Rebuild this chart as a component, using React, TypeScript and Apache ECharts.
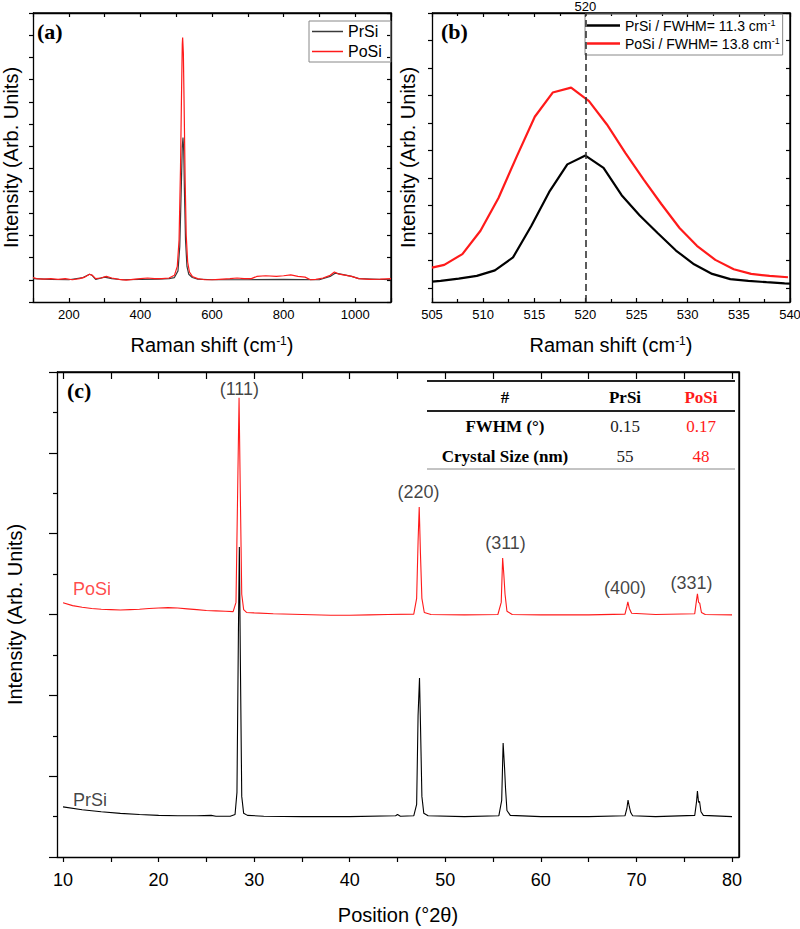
import React, { useEffect, useRef } from "react";
import * as echarts from "echarts";

// ---------- DATA ----------
const ramanFullPrSi: [number, number][] = [
  [100, 0.05], [150, 0.02], [200, 0.0], [240, 0.1], [258, 0.25], [265, 0.2], [275, 0.02],
  [300, 0.12], [320, 0.05], [350, 0.0], [400, 0.02], [450, 0.03], [480, 0.05], [495, 0.1],
  [505, 0.4], [510, 1.5], [514, 4.0], [517, 6.0], [519, 6.4], [521, 5.8], [523, 4.0],
  [526, 1.8], [530, 0.6], [535, 0.25], [545, 0.1], [560, 0.03], [600, 0.0], [700, 0.0],
  [800, 0.02], [900, 0.0], [930, 0.15], [945, 0.3], [970, 0.22], [990, 0.15], [1010, 0.05],
  [1100, 0.0],
];
const ramanFullPoSi: [number, number][] = [
  [100, 0.1], [110, 0.05], [130, 0.03], [150, 0.05], [170, 0.02], [190, 0.05], [210, 0.0],
  [230, 0.05], [245, 0.12], [258, 0.25], [266, 0.2], [275, 0.05], [290, 0.08], [305, 0.15],
  [320, 0.08], [340, 0.02], [360, -0.02], [380, 0.02], [400, 0.05], [420, 0.08], [440, 0.05],
  [460, 0.05], [480, 0.08], [495, 0.2], [503, 0.6], [508, 1.8], [512, 5.0], [515, 8.5],
  [517, 10.6], [518, 10.9], [520, 10.2], [522, 8.0], [525, 4.5], [528, 2.0], [532, 0.8],
  [537, 0.35], [545, 0.15], [560, 0.05], [580, 0.0], [600, 0.0], [620, 0.02], [650, 0.05],
  [670, 0.08], [690, 0.05], [710, 0.05], [725, 0.15], [750, 0.18], [780, 0.15], [800, 0.18],
  [820, 0.22], [840, 0.15], [860, 0.12], [875, 0.0], [890, 0.02], [910, 0.08], [930, 0.2],
  [942, 0.35], [955, 0.25], [975, 0.2], [990, 0.15], [1010, 0.05], [1040, 0.02], [1070, 0.03],
  [1100, 0.05],
];

const ramanZoomPrSi: [number, number][] = [
  [505, 0.24], [505.84, 0.27], [507.61, 0.35], [509.38, 0.45], [511.15, 0.65], [512.92, 1.12],
  [514.69, 2.25], [516.46, 3.5], [518.23, 4.5], [520, 4.82], [521.77, 4.37], [523.54, 3.38],
  [525.31, 2.64], [527.08, 2.0], [528.85, 1.37], [530.62, 0.87], [532.39, 0.52], [534.16, 0.33],
  [535.93, 0.27], [537.7, 0.22], [539.47, 0.18], [540, 0.17],
];
const ramanZoomPoSi: [number, number][] = [
  [505, 0.75], [506.2, 0.85], [507.97, 1.24], [509.74, 2.09], [511.5, 3.28], [513.3, 4.8],
  [515.05, 6.23], [516.8, 7.11], [518.6, 7.29], [520.35, 6.8], [522.1, 5.95], [523.9, 4.92],
  [525.7, 3.95], [527.4, 3.07], [529.2, 2.19], [530.9, 1.54], [532.7, 1.03], [534.5, 0.69],
  [536.2, 0.52], [538.0, 0.45], [539.8, 0.4],
];
const fwhmPrSi = "11.3";
const fwhmPoSi = "13.8";
const siPeakRef = 520;

const xrdPrSi: [number, number][] = [
  [10, 1.24], [12, 1.17], [14, 1.12], [16, 1.08], [18, 1.05], [20, 1.03], [22, 1.02], [24, 1.02],
  [25.5, 1.03], [26, 1.01], [27.5, 1.01], [28.0, 1.05], [28.2, 1.6], [28.35, 5.5], [28.45, 7.67],
  [28.55, 5.0], [28.7, 1.5], [28.9, 1.08], [29.3, 1.03], [31, 1.01], [35, 1.0], [40, 1.0],
  [44.8, 1.02], [45, 1.05], [45.3, 1.01], [46.7, 1.02], [47.0, 1.3], [47.15, 3.5], [47.3, 4.43],
  [47.4, 3.3], [47.55, 1.5], [47.75, 1.08], [48.2, 1.02], [52, 1.0], [55.6, 1.02], [55.9, 1.4],
  [56.05, 2.82], [56.2, 2.2], [56.3, 1.7], [56.45, 1.15], [56.8, 1.03], [60, 1.0], [65, 1.0],
  [68.8, 1.02], [69.0, 1.2], [69.12, 1.41], [69.25, 1.25], [69.4, 1.1], [69.6, 1.02], [72, 1.0],
  [76.1, 1.03], [76.28, 1.35], [76.38, 1.63], [76.5, 1.35], [76.6, 1.38], [76.75, 1.12],
  [77, 1.03], [80, 1.0],
];
const xrdPoSi: [number, number][] = [
  [10, 6.29], [11, 6.22], [12, 6.18], [13, 6.15], [14, 6.13], [15, 6.12], [16, 6.11], [17, 6.12],
  [18, 6.13], [19, 6.15], [20, 6.16], [21, 6.17], [22, 6.16], [23, 6.14], [24, 6.12], [25, 6.1],
  [26, 6.09], [27, 6.08], [27.8, 6.07], [28.1, 6.3], [28.3, 9.5], [28.42, 11.36], [28.55, 9.0],
  [28.7, 6.5], [28.9, 6.12], [29.2, 6.05], [30, 6.04], [32, 6.02], [35, 6.0], [38, 5.98],
  [40, 5.98], [42, 5.99], [44, 6.0], [46.7, 6.01], [47.0, 6.4], [47.15, 7.8], [47.27, 8.66],
  [47.4, 7.5], [47.55, 6.4], [47.8, 6.05], [48.5, 6.0], [52, 5.99], [55.5, 6.0], [55.85, 6.3],
  [56.0, 7.4], [56.12, 7.0], [56.25, 6.5], [56.45, 6.08], [57, 6.0], [60, 5.99], [65, 5.99],
  [68.8, 6.01], [69.0, 6.2], [69.1, 6.31], [69.25, 6.15], [69.5, 6.03], [72, 6.0], [76.1, 6.02],
  [76.28, 6.35], [76.38, 6.51], [76.5, 6.3], [76.62, 6.28], [76.8, 6.05], [77.2, 6.0], [80, 5.99],
];
const peakNames = ["(111)", "(220)", "(311)", "(400)", "(331)"];
const peakLabelX = [28.45, 47.2, 56.3, 68.8, 75.75];
const peakLabelY = [11.58, 9.03, 7.77, 6.66, 6.78];
const sampleNames = ["PrSi", "PoSi"];
const sampleLabelX = [12.82, 13.03];
const sampleLabelY = [1.41, 6.63];

const tableHeader = ["#", "PrSi", "PoSi"];
const tableRows = [
  ["FWHM (°)", "0.15", "0.17"],
  ["Crystal Size (nm)", "55", "48"],
];

const ramanFullXTicks = { min: 100, max: 1100, interval: 100 };
const ramanZoomXTicks = { min: 505, max: 540, interval: 5 };
const ramanZoomYTicks = [0, 1, 2, 3, 4, 5, 6, 7, 8, 9, 10];
const xrdXTicks = [10, 15, 20, 25, 30, 35, 40, 45, 50, 55, 60, 65, 70, 75, 80];
const xrdXLabels = [10, 20, 30, 40, 50, 60, 70, 80];

// ---------- STYLE ----------
const SANS = "Arial, 'Liberation Sans', Helvetica, sans-serif";
const SERIF = "'Times New Roman', 'Liberation Serif', Times, serif";
const RED = "#ff1a1a";
const BLACK = "#000";

const supRich = (size: number, supSize: number) => ({
  t: { fontSize: size, fontFamily: SANS, color: BLACK },
  s: { fontSize: supSize, fontFamily: SANS, color: BLACK, verticalAlign: "top", lineHeight: supSize },
});

const panelBoxes = [
  { left: 33, top: 13, width: 358, height: 289 },
  { left: 432, top: 13, width: 358, height: 289 },
  { left: 57, top: 372, width: 682, height: 485 },
];

export default function App() {
  const ref = useRef<HTMLDivElement>(null);

  useEffect(() => {
    document.body.style.margin = "0";
    if (!ref.current) return;
    const chart = echarts.init(ref.current, undefined, { renderer: "svg" });

    const mkLine = () => ({ show: true, onZero: false, lineStyle: { color: BLACK, width: 1.3 } });
    const tickStyle = { color: BLACK, width: 1.2 };

    const grids = panelBoxes.map((b) => ({ ...b, outerBoundsMode: "none", containLabel: false }));

    const xAxis: any[] = [
      {
        gridIndex: 0, type: "value", position: "bottom", ...ramanFullXTicks,
        axisLine: mkLine(), splitLine: { show: false },
        axisTick: { show: true, inside: true, length: 4, lineStyle: tickStyle },
        axisLabel: {
          show: true, fontSize: 13, fontFamily: SANS, color: BLACK, margin: 6,
          formatter: (v: number) => (v % 200 === 0 ? String(v) : ""),
        },
        name: "{t|Raman shift (cm}{s|-1}{t|)}", nameLocation: "middle", nameGap: 33,
        nameTextStyle: { rich: supRich(20, 12) },
      },
      {
        gridIndex: 1, type: "value", position: "bottom", ...ramanZoomXTicks,
        axisLine: mkLine(), splitLine: { show: false },
        axisTick: { show: true, inside: true, length: 4, lineStyle: tickStyle },
        minorTick: { show: true, splitNumber: 2, length: 3, lineStyle: tickStyle },
        axisLabel: { show: true, fontSize: 13, fontFamily: SANS, color: BLACK, margin: 6 },
        name: "{t|Raman shift (cm}{s|-1}{t|)}", nameLocation: "middle", nameGap: 33,
        nameTextStyle: { rich: supRich(20, 12) },
      },
      {
        gridIndex: 2, type: "value", position: "bottom", min: 9.37, max: 80.73,
        axisLine: mkLine(), splitLine: { show: false },
        axisTick: { show: true, inside: false, length: 5, lineStyle: tickStyle, customValues: xrdXTicks },
        axisLabel: { show: true, fontSize: 18, fontFamily: SANS, color: BLACK, margin: 14, customValues: xrdXLabels },
        name: "Position (°2θ)", nameLocation: "middle", nameGap: 48,
        nameTextStyle: { fontSize: 20, fontFamily: SANS, color: BLACK },
      },
      {
        gridIndex: 0, type: "value", position: "top", ...ramanFullXTicks,
        axisLine: mkLine(), splitLine: { show: false },
        axisTick: { show: true, inside: true, length: 4, lineStyle: tickStyle },
        axisLabel: { show: false },
      },
      {
        gridIndex: 1, type: "value", position: "top", ...ramanZoomXTicks,
        axisLine: mkLine(), splitLine: { show: false },
        axisTick: { show: true, inside: true, length: 4, lineStyle: tickStyle },
        minorTick: { show: true, splitNumber: 2, length: 3, lineStyle: tickStyle },
        axisLabel: { show: false },
      },
      {
        gridIndex: 2, type: "value", position: "top", min: 9.37, max: 80.73,
        axisLine: mkLine(), splitLine: { show: false },
        axisTick: { show: true, inside: true, length: 7, lineStyle: tickStyle, customValues: xrdXTicks },
        axisLabel: { show: false, customValues: xrdXLabels },
      },
    ];

    const yAxis: any[] = [
      {
        gridIndex: 0, type: "value", position: "left", min: -1, max: 12, interval: 1,
        axisLine: mkLine(), splitLine: { show: false },
        axisTick: { show: true, inside: false, length: 4, lineStyle: tickStyle },
        axisLabel: { show: false },
        name: "Intensity (Arb. Units)", nameLocation: "middle", nameGap: 12,
        nameTextStyle: { fontSize: 20, fontFamily: SANS, color: BLACK },
      },
      {
        gridIndex: 1, type: "value", position: "left", min: -0.5, max: 10,
        axisLine: mkLine(), splitLine: { show: false },
        axisTick: { show: true, inside: false, length: 4, lineStyle: tickStyle, customValues: ramanZoomYTicks },
        axisLabel: { show: false, customValues: ramanZoomYTicks },
        name: "Intensity (Arb. Units)", nameLocation: "middle", nameGap: 14,
        nameTextStyle: { fontSize: 20, fontFamily: SANS, color: BLACK },
      },
      {
        gridIndex: 2, type: "value", position: "left", min: 0, max: 12, interval: 2,
        axisLine: mkLine(), splitLine: { show: false },
        axisTick: { show: true, inside: false, length: 8, lineStyle: tickStyle },
        minorTick: { show: true, splitNumber: 2, length: 4, lineStyle: tickStyle },
        axisLabel: { show: false },
        name: "Intensity (Arb. Units)", nameLocation: "middle", nameGap: 32,
        nameTextStyle: { fontSize: 20, fontFamily: SANS, color: BLACK },
      },
      {
        gridIndex: 0, type: "value", position: "right", min: -1, max: 12, interval: 1,
        axisLine: mkLine(), splitLine: { show: false },
        axisTick: { show: true, inside: true, length: 4, lineStyle: tickStyle },
        axisLabel: { show: false },
      },
      {
        gridIndex: 1, type: "value", position: "right", min: -0.5, max: 10,
        axisLine: mkLine(), splitLine: { show: false },
        axisTick: { show: true, inside: true, length: 4, lineStyle: tickStyle, customValues: ramanZoomYTicks },
        axisLabel: { show: false, customValues: ramanZoomYTicks },
      },
      {
        gridIndex: 2, type: "value", position: "right", min: 0, max: 12, interval: 2,
        axisLine: mkLine(), splitLine: { show: false },
        axisTick: { show: false },
        axisLabel: { show: false },
      },
    ];

    const prsiZoomName = `PrSi / FWHM= ${fwhmPrSi} cm-1`;
    const posiZoomName = `PoSi / FWHM= ${fwhmPoSi} cm-1`;

    const frameSeries = (name: string, xi: number, yi: number, data: [number, number][]) => ({
      name, type: "line", xAxisIndex: xi, yAxisIndex: yi, data, showSymbol: false, silent: true,
      lineStyle: { color: "rgba(0,0,0,0)", width: 1 }, itemStyle: { color: "rgba(0,0,0,0)" },
    });

    const series: any[] = [
      {
        name: "PrSi", type: "line", xAxisIndex: 0, yAxisIndex: 0, data: ramanFullPrSi,
        showSymbol: false, lineStyle: { color: "#3a3a3a", width: 1.2 }, itemStyle: { color: "#3a3a3a" },
        z: 2,
      },
      {
        name: "PoSi", type: "line", xAxisIndex: 0, yAxisIndex: 0, data: ramanFullPoSi,
        showSymbol: false, lineStyle: { color: RED, width: 1.2 }, itemStyle: { color: RED },
        z: 3,
      },
      {
        name: prsiZoomName, type: "line", xAxisIndex: 1, yAxisIndex: 1, data: ramanZoomPrSi,
        showSymbol: false, lineStyle: { color: BLACK, width: 2.2 }, itemStyle: { color: BLACK },
        markLine: {
          silent: true, symbol: ["none", "none"],
          lineStyle: { color: "#333", width: 1.6, type: [7, 4] },
          label: {
            show: true, position: "end", formatter: String(siPeakRef), fontSize: 13,
            lineHeight: 12, fontFamily: SANS, color: BLACK, distance: 1,
          },
          data: [{ xAxis: siPeakRef }],
        },
      },
      {
        name: posiZoomName, type: "line", xAxisIndex: 1, yAxisIndex: 1, data: ramanZoomPoSi,
        showSymbol: false, lineStyle: { color: RED, width: 2.2 }, itemStyle: { color: RED },
      },
      {
        name: "PoSi (XRD)", type: "line", xAxisIndex: 2, yAxisIndex: 2, data: xrdPoSi,
        showSymbol: false, lineStyle: { color: RED, width: 1.1 }, itemStyle: { color: RED },
      },
      {
        name: "PrSi (XRD)", type: "line", xAxisIndex: 2, yAxisIndex: 2, data: xrdPrSi,
        showSymbol: false, lineStyle: { color: BLACK, width: 1.1 }, itemStyle: { color: BLACK },
      },
      {
        name: "peaks", type: "scatter", xAxisIndex: 2, yAxisIndex: 2, symbolSize: 0, silent: true,
        data: peakNames.map((n, i) => ({ value: [peakLabelX[i], peakLabelY[i]], name: n })),
        label: {
          show: true, position: "inside", formatter: (p: any) => p.name,
          fontSize: 18, fontFamily: SANS, color: "#111",
        },
      },
      {
        name: "samples", type: "scatter", xAxisIndex: 2, yAxisIndex: 2, symbolSize: 0, silent: true,
        data: sampleNames.map((n, i) => ({
          value: [sampleLabelX[i], sampleLabelY[i]], name: n,
          label: { color: n === "PoSi" ? RED : "#111" },
        })),
        label: {
          show: true, position: "inside", formatter: (p: any) => p.name,
          fontSize: 18, fontFamily: SANS,
        },
      },
      frameSeries("frame a", 3, 3, ramanFullPrSi),
      frameSeries("frame b", 4, 4, ramanZoomPrSi),
      frameSeries("frame c", 5, 5, xrdPrSi),
    ];

    const legend: any[] = [
      {
        data: ["PrSi", "PoSi"], orient: "vertical", left: 309, top: 21,
        icon: "rect", itemWidth: 31, itemHeight: 1.5, itemGap: 3,
        padding: [2, 9, 2, 3], borderColor: "#888", borderWidth: 1,
        selectedMode: false,
        textStyle: { fontSize: 16, fontFamily: SANS, color: BLACK, lineHeight: 17 },
      },
      {
        data: [prsiZoomName, posiZoomName], orient: "vertical", left: 585, top: 14,
        icon: "rect", itemWidth: 33, itemHeight: 2.5, itemGap: 3,
        padding: [4, 3, 4, 2], borderColor: "#888", borderWidth: 1,
        selectedMode: false,
        formatter: (name: string) => `{t|${name.replace(/ cm-1$/, " cm")}}{s|-1}`,
        textStyle: { fontSize: 14, fontFamily: SANS, color: BLACK, lineHeight: 15, rich: supRich(14, 9) },
      },
    ];

    const colX = [505, 625, 701];
    const rowY = [426, 456];
    const graphic: any[] = [
      { type: "line", shape: { x1: 427, y1: 381, x2: 735, y2: 381 }, style: { stroke: "#222", lineWidth: 1.8 } },
      { type: "line", shape: { x1: 427, y1: 411, x2: 735, y2: 411 }, style: { stroke: "#222", lineWidth: 1.8 } },
      { type: "line", shape: { x1: 427, y1: 469, x2: 735, y2: 469 }, style: { stroke: "#888", lineWidth: 1 } },
    ];
    panelBoxes.forEach((b) => {
      graphic.push(
        { type: "line", shape: { x1: b.left, y1: b.top, x2: b.left + b.width, y2: b.top }, style: { stroke: BLACK, lineWidth: 1.4 } },
        { type: "line", shape: { x1: b.left + b.width, y1: b.top, x2: b.left + b.width, y2: b.top + b.height }, style: { stroke: BLACK, lineWidth: 1.4 } },
      );
    });
    graphic.push(
      { type: "text", x: 37, y: 20, style: { text: "(a)", font: `bold 22px ${SERIF}`, fill: BLACK } },
      { type: "text", x: 441, y: 20, style: { text: "(b)", font: `bold 22px ${SERIF}`, fill: BLACK } },
      { type: "text", x: 67, y: 379, style: { text: "(c)", font: `bold 22px ${SERIF}`, fill: BLACK } },
    );
    tableHeader.forEach((h, i) => {
      graphic.push({
        type: "text", x: colX[i], y: 397,
        style: {
          text: h, font: `bold 17px ${SERIF}`, fill: i === 2 ? RED : BLACK,
          textAlign: "center", textVerticalAlign: "middle",
        },
      });
    });
    tableRows.forEach((row, r) => {
      row.forEach((cell, c) => {
        graphic.push({
          type: "text", x: colX[c], y: rowY[r],
          style: {
            text: cell, font: `${c === 0 ? "bold " : ""}17px ${SERIF}`,
            fill: c === 2 ? RED : c === 1 ? "#222" : BLACK,
            textAlign: "center", textVerticalAlign: "middle",
          },
        });
      });
    });

    chart.setOption({
      animation: false,
      grid: grids,
      xAxis,
      yAxis,
      series,
      legend,
      graphic,
    });

    return () => chart.dispose();
  }, []);

  return <div ref={ref} style={{ width: 800, height: 929 }} />;
}
